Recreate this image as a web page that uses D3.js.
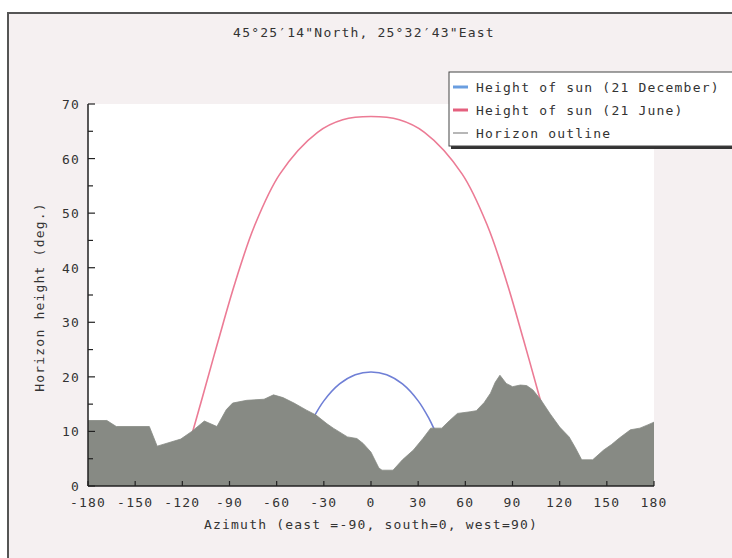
<!DOCTYPE html>
<html><head><meta charset="utf-8">
<script src="https://cdn.jsdelivr.net/npm/d3@7"></script>
<style>
html,body{margin:0;padding:0;background:#fff;}
svg text{font-family:"DejaVu Sans Mono",monospace;font-size:13px;letter-spacing:1.2px;fill:#333;}
</style></head><body>
<svg id="c" width="732" height="558"></svg>
<script>
const title = "45°25′14\"North, 25°32′43\"East";
const xLabel = "Azimuth (east =-90, south=0, west=90)";
const yLabel = "Horizon height (deg.)";
const legendLabels = ["Height of sun (21 December)", "Height of sun (21 June)", "Horizon outline"];
const xTicks = [-180,-150,-120,-90,-60,-30,0,30,60,90,120,150,180];
const yTicks = [0,10,20,30,40,50,60,70];

// Sun path, 21 December (azimuth, height)
const decAz  = [-45, -41, -37, -30, -20, -10, 0, 10, 20, 30, 37, 41, 45];
const decAlt = [7.5, 9.9, 12.3, 15.6, 18.7, 20.4, 20.9, 20.4, 18.7, 15.6, 12.3, 9.9, 7.5];
// Sun path, 21 June
const junAz  = [-117, -113.5, -107, -97, -86.5, -74.2, -57.9, -34, -18, 0, 18, 34, 57.9, 74.2, 86.5, 97, 107, 112];
const junAlt = [6.7, 9.9, 16.5, 26.8, 37.2, 47.6, 57.2, 64.8, 67.1, 67.7, 67.1, 64.8, 57.2, 47.6, 37.2, 26.8, 16.5, 11.5];
// Horizon outline
const horAz = [-180,-168,-162,-141,-136,-121,-114,-106,-98,-92,-88,-79,-68,-62,-56,-49,-41,-35,-28,-24,-15,-9,-5,0,5,7,14,20,27,33,38,45,50,55,63,67,72,76,79,82,86,90,95,99,103,108,114,120,126,130,134,141,148,153,158,165,171,176,180];
const horH  = [12.0,12.0,10.9,10.9,7.3,8.6,10.0,11.9,10.9,14.0,15.2,15.7,15.9,16.7,16.2,15.2,13.9,13.0,11.4,10.6,9.0,8.7,7.8,6.2,3.3,2.9,2.9,4.8,6.6,8.7,10.6,10.6,12.0,13.3,13.6,13.8,15.3,17.0,19.0,20.3,18.8,18.2,18.5,18.4,17.6,15.8,13.2,10.8,9.0,7.0,4.8,4.8,6.6,7.6,8.8,10.3,10.6,11.2,11.7];

const svg = d3.select("#c");
const x = d3.scaleLinear().domain([-180,180]).range([88,654]);
const y = d3.scaleLinear().domain([0,70]).range([486,104]);

// outer frame
svg.append("rect").attr("x",8).attr("y",13).attr("width",740).attr("height",560)
  .attr("fill","#f5f0f1").attr("stroke","#555").attr("stroke-width",2);
// plot background
svg.append("rect").attr("x",x(-180)).attr("y",y(70)).attr("width",x(180)-x(-180)).attr("height",y(0)-y(70)).attr("fill","#fff");

const clipId = "plotclip";
svg.append("clipPath").attr("id",clipId).append("rect")
  .attr("x",x(-180)).attr("y",y(70)).attr("width",x(180)-x(-180)).attr("height",y(0)-y(70));
const g = svg.append("g").attr("clip-path","url(#"+clipId+")");

const line = d3.line().x(d=>x(d[0])).y(d=>y(d[1])).curve(d3.curveCatmullRom);
g.append("path").datum(junAz.map((a,i)=>[a,junAlt[i]])).attr("d",line)
  .attr("fill","none").attr("stroke","#ec7b95").attr("stroke-width",1.6);
g.append("path").datum(decAz.map((a,i)=>[a,decAlt[i]])).attr("d",line)
  .attr("fill","none").attr("stroke","#6f7fd6").attr("stroke-width",1.6);

const area = d3.area().x(d=>x(d[0])).y0(y(0)).y1(d=>y(d[1]));
g.append("path").datum(horAz.map((a,i)=>[a,horH[i]])).attr("d",area)
  .attr("fill","#878a84").attr("stroke","#878a84").attr("stroke-width",0.8);

// axes
const ax = svg.append("g");
ax.append("line").attr("x1",x(-180)).attr("x2",x(-180)).attr("y1",y(70)).attr("y2",y(0)).attr("stroke","#222").attr("stroke-width",1.5);
ax.append("line").attr("x1",x(-180)).attr("x2",x(180)).attr("y1",y(0)).attr("y2",y(0)).attr("stroke","#222").attr("stroke-width",1.5);
d3.range(0,71,5).forEach(v=>{
  ax.append("line").attr("x1",x(-180)).attr("x2",x(-180)+(v%10===0?7:5)).attr("y1",y(v)).attr("y2",y(v)).attr("stroke","#222").attr("stroke-width",1.2);
});
xTicks.forEach(v=>{
  ax.append("line").attr("x1",x(v)).attr("x2",x(v)).attr("y1",y(0)).attr("y2",y(0)-5).attr("stroke","#222").attr("stroke-width",1.2);
  ax.append("text").attr("x",x(v)).attr("y",507).attr("text-anchor","middle").text(v);
});
yTicks.forEach(v=>{
  ax.append("text").attr("x",80).attr("y",y(v)+5).attr("text-anchor","end").text(v);
});

svg.append("text").attr("x",364).attr("y",37).attr("text-anchor","middle").text(title);
svg.append("text").attr("x",371).attr("y",529).attr("text-anchor","middle").text(xLabel);
svg.append("text").attr("transform","translate(44,297) rotate(-90)").attr("text-anchor","middle").text(yLabel);

// legend
const lg = svg.append("g");
lg.append("rect").attr("x",451).attr("y",75).attr("width",300).attr("height",74).attr("fill","#333");
lg.append("rect").attr("x",449).attr("y",72).attr("width",300).attr("height",74).attr("fill","#fff").attr("stroke","#444").attr("stroke-width",1);
const swC = ["#6a9ee0","#e4607e","#888"];
const swW = [3,3,1.2];
legendLabels.forEach((t,i)=>{
  const yy = 87 + i*23;
  lg.append("line").attr("x1",453).attr("x2",468).attr("y1",yy).attr("y2",yy).attr("stroke",swC[i]).attr("stroke-width",swW[i]);
  lg.append("text").attr("x",476).attr("y",yy+5).text(t);
});
</script>
</body></html>
